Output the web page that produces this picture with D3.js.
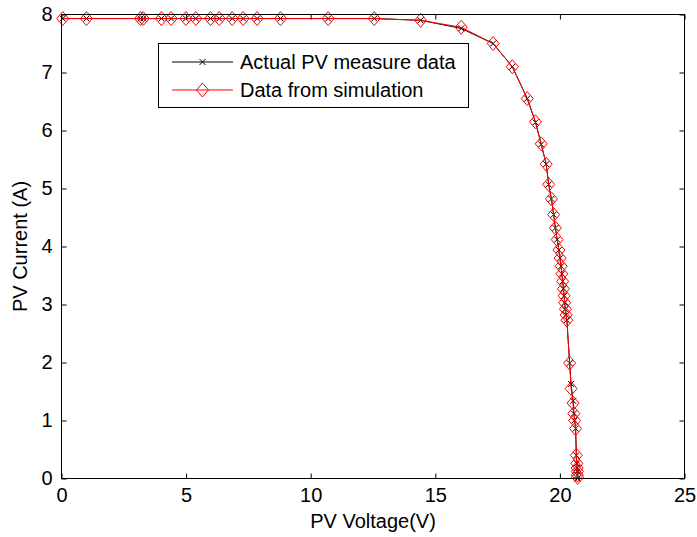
<!DOCTYPE html>
<html>
<head>
<script src="https://cdn.jsdelivr.net/npm/d3@7"></script>
<style>
  body { margin: 0; background: #fff; }
  text { font-family: "Liberation Sans", Arial, sans-serif; fill: #000; }
</style>
</head>
<body>
<div id="viz"></div>
<script>
// PV voltage (V) shared by both series
var voltage = [0.05, 1.0, 3.17, 3.28, 4.01, 4.4, 4.99, 5.39, 5.98, 6.33, 6.85, 7.29, 7.85, 8.79, 10.7, 12.55,
    14.41, 16.04, 17.32, 18.09, 18.69, 19.02, 19.25, 19.45, 19.55, 19.66, 19.75, 19.82, 19.89, 19.96,
    20.01, 20.05, 20.08, 20.11, 20.14, 20.17, 20.19, 20.22, 20.25, 20.28, 20.39, 20.45, 20.53, 20.56,
    20.59, 20.63, 20.66, 20.68, 20.69, 20.70, 20.70, 20.71];
// measured current (A)
var measured = [7.93, 7.93, 7.93, 7.93, 7.93, 7.93, 7.93, 7.93, 7.93, 7.93, 7.93, 7.93, 7.93, 7.93, 7.93, 7.93,
    7.90, 7.76, 7.50, 7.10, 6.55, 6.14, 5.76, 5.42, 5.07, 4.82, 4.55, 4.32, 4.12, 3.94,
    3.80, 3.66, 3.53, 3.40, 3.27, 3.15, 3.03, 2.92, 2.82, 2.73, 1.99, 1.63, 1.34, 1.12,
    1.00, 0.86, 0.40, 0.26, 0.18, 0.12, 0.06, 0.0];
// simulated current (A)
var simulated = [7.93, 7.93, 7.93, 7.93, 7.93, 7.93, 7.93, 7.93, 7.93, 7.93, 7.93, 7.93, 7.93, 7.93, 7.93, 7.93,
    7.90, 7.78, 7.50, 7.10, 6.55, 6.15, 5.77, 5.42, 5.07, 4.82, 4.55, 4.32, 4.12, 3.94,
    3.80, 3.66, 3.53, 3.40, 3.27, 3.15, 3.03, 2.92, 2.82, 2.73, 1.99, 1.55, 1.30, 1.12,
    1.00, 0.86, 0.40, 0.26, 0.18, 0.12, 0.06, 0.02];
var xTicks = [0, 5, 10, 15, 20, 25];
var yTicks = [0, 1, 2, 3, 4, 5, 6, 7, 8];
var legendLabels = ["Actual PV measure data", "Data from simulation"];

var W = 697, H = 537;
var mLeft = 61.5, mRight = 684.5, mTop = 14.5, mBottom = 478.5;
var fs = "20px";

var svg = d3.select("#viz").append("svg")
    .attr("width", W)
    .attr("height", H);

var x = d3.scaleLinear().domain([0, 25]).range([mLeft, mRight]);
var y = d3.scaleLinear().domain([0, 8]).range([mBottom, mTop]);

// data
var measPts = voltage.map(function(v, i){ return [v, measured[i]]; });
var simPts = voltage.map(function(v, i){ return [v, simulated[i]]; });
var line = d3.line().x(function(d){ return x(d[0]); }).y(function(d){ return y(d[1]); });

var plot = svg.append("g");

plot.append("path").datum(measPts)
    .attr("d", line)
    .style("fill", "none").style("stroke", "#000").style("stroke-width", 1);

function cross(g, cx, cy){
    g.append("path")
        .attr("d", "M" + (cx - 3) + "," + (cy - 3) + "L" + (cx + 3) + "," + (cy + 3) +
                   "M" + (cx - 3) + "," + (cy + 3) + "L" + (cx + 3) + "," + (cy - 3))
        .style("stroke", "#000").style("stroke-width", 1).style("fill", "none");
}
function diamond(g, cx, cy){
    g.append("path")
        .attr("d", "M" + cx + "," + (cy - 7) + "L" + (cx + 6) + "," + cy + "L" + cx + "," + (cy + 7) +
                   "L" + (cx - 6) + "," + cy + "Z")
        .style("stroke", "#ff0000").style("stroke-width", 1).style("fill", "none");
}

measPts.forEach(function(d){ cross(plot, x(d[0]), y(d[1])); });

plot.append("path").datum(simPts)
    .attr("d", line)
    .style("fill", "none").style("stroke", "#ff0000").style("stroke-width", 1);

simPts.forEach(function(d){ diamond(plot, x(d[0]), y(d[1])); });

// axes
var xAxis = d3.axisBottom(x).tickValues(xTicks).tickSizeInner(-5).tickSizeOuter(0).tickPadding(9);
var yAxis = d3.axisLeft(y).tickValues(yTicks).tickSizeInner(-5).tickSizeOuter(0).tickPadding(9);

var gx = svg.append("g").attr("transform", "translate(0," + mBottom + ")").call(xAxis);
var gy = svg.append("g").attr("transform", "translate(" + mLeft + ",0)").call(yAxis);
// mirrored ticks on top and right
svg.append("g").attr("transform", "translate(0," + mTop + ")")
    .call(d3.axisTop(x).tickValues(xTicks).tickSizeInner(-5).tickSizeOuter(0).tickFormat(""));
svg.append("g").attr("transform", "translate(" + mRight + ",0)")
    .call(d3.axisRight(y).tickValues(yTicks).tickSizeInner(-5).tickSizeOuter(0).tickFormat(""));

svg.selectAll(".domain").remove();
svg.selectAll(".tick line").style("stroke", "#000");
[gx, gy].forEach(function(g){
    g.selectAll("text").style("font-size", fs).style("font-family", "'Liberation Sans', Arial, sans-serif");
});
gx.selectAll("text").attr("dy", "0.71em");

svg.append("rect")
    .attr("x", mLeft).attr("y", mTop)
    .attr("width", mRight - mLeft).attr("height", mBottom - mTop)
    .style("fill", "none").style("stroke", "#000").style("stroke-width", 1);

// axis labels
svg.append("text")
    .attr("x", (mLeft + mRight) / 2).attr("y", 528)
    .attr("text-anchor", "middle")
    .style("font-size", fs)
    .text("PV Voltage(V)");
svg.append("text")
    .attr("transform", "translate(27," + ((mTop + mBottom) / 2) + ") rotate(-90)")
    .attr("text-anchor", "middle")
    .style("font-size", fs)
    .text("PV Current (A)");

// legend
var lg = svg.append("g");
lg.append("rect")
    .attr("x", 158.5).attr("y", 43.5).attr("width", 310).attr("height", 64)
    .style("fill", "#fff").style("stroke", "#000").style("stroke-width", 1);
var rowY = [62, 90];
lg.append("line").attr("x1", 172).attr("x2", 233).attr("y1", rowY[0]).attr("y2", rowY[0])
    .style("stroke", "#000");
cross(lg, 202.5, rowY[0]);
lg.append("line").attr("x1", 172).attr("x2", 233).attr("y1", rowY[1]).attr("y2", rowY[1])
    .style("stroke", "#ff0000");
diamond(lg, 202.5, rowY[1]);
legendLabels.forEach(function(t, i){
    lg.append("text")
        .attr("x", 240).attr("y", rowY[i]).attr("dy", "0.35em")
        .style("font-size", fs)
        .text(t);
});
</script>
</body>
</html>
